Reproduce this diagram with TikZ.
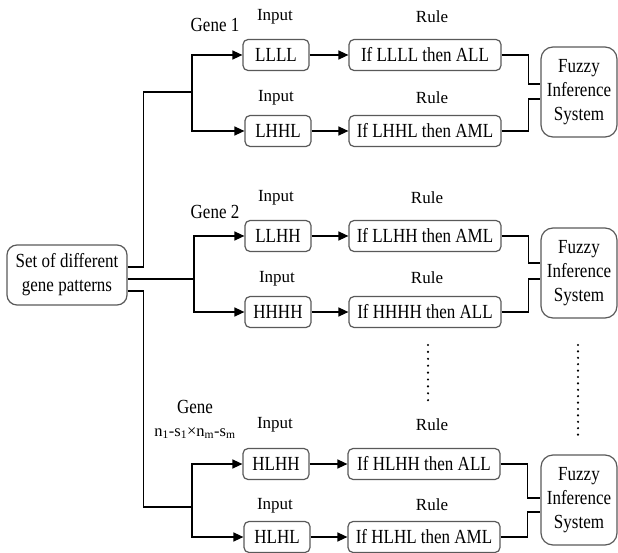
\documentclass[tikz,border=0pt]{standalone}
\usepackage{fontspec}
\setmainfont{Liberation Serif}
\newfontfamily\tallfont[FakeStretch=0.85]{Liberation Serif}
\usetikzlibrary{arrows.meta}
\newlength{\du}
\setlength{\du}{1\unitlength}

\begin{document}
\begin{tikzpicture}[x=1\du,y=-1\du]
\definecolor{dialinecolor}{rgb}{0.350000, 0.350000, 0.350000}
\tikzset{
  boxed/.style={draw=dialinecolor, line width=1.2\du, rounded corners=5\du, inner sep=0pt,
    align=center, font=\tallfont\fontsize{20}{24}\selectfont},
  inbox/.style={boxed, minimum width=66\du, minimum height=31\du},
  rulebox/.style={boxed, minimum width=152\du, minimum height=31\du},
  fisbox/.style={boxed, rounded corners=12\du, minimum width=76\du, minimum height=90\du},
  lbl/.style={inner sep=0pt, font=\fontsize{17}{20}\selectfont},
  wire/.style={black, line width=1.4\du},
  arr/.style={wire, -{Triangle[length=10pt,width=9pt]}}
}
\useasboundingbox (0,0) rectangle (618,553);
% source box
\node[boxed, rounded corners=10\du, minimum width=120\du, minimum height=60\du] (gp) at (67,275){Set of different\\gene patterns};
% inputs
\node[inbox] (in1) at (276,55){LLLL};
\node[inbox] (in2) at (278,131){LHHL};
\node[inbox] (in3) at (278,236){LLHH};
\node[inbox] (in4) at (278,312){HHHH};
\node[inbox] (in5) at (276,464){HLHH};
\node[inbox] (in6) at (277,537){HLHL};
% rules
\node[rulebox] (ru1) at (425,55){If LLLL then ALL};
\node[rulebox] (ru2) at (425,131){If LHHL then AML};
\node[rulebox] (ru3) at (425,236){If LLHH then AML};
\node[rulebox] (ru4) at (425,312){If HHHH then ALL};
\node[rulebox] (ru5) at (424,464){If HLHH then ALL};
\node[rulebox] (ru6) at (424,537){If HLHL then AML};
% inference systems
\node[fisbox] (fis1) at (579,92){Fuzzy\\Inference\\System};
\node[fisbox] (fis2) at (579,273){Fuzzy\\Inference\\System};
\node[fisbox] (fis3) at (579,500){Fuzzy\\Inference\\System};
% labels
\node[lbl, font=\tallfont\fontsize{20}{22}\selectfont] (lg1) at (215,25){Gene 1};
\node[lbl, font=\tallfont\fontsize{20}{22}\selectfont] (lg2) at (215,212){Gene 2};
\node[lbl, font=\tallfont\fontsize{20}{22}\selectfont] (lg3) at (195,407){Gene};
\node[lbl, font=\fontsize{16.5}{18}\selectfont] (lg3b) at (195,433){n\textsubscript{1}-s\textsubscript{1}×n\textsubscript{m}-s\textsubscript{m}};
\node[lbl] (li1) at (275,17){Input};
\node[lbl] (li2) at (276,98){Input};
\node[lbl] (li3) at (276,198){Input};
\node[lbl] (li4) at (277,279){Input};
\node[lbl] (li5) at (275,425){Input};
\node[lbl] (li6) at (275,506){Input};
\node[lbl] (lr1) at (432,17){Rule};
\node[lbl] (lr2) at (432,98){Rule};
\node[lbl] (lr3) at (427,198){Rule};
\node[lbl] (lr4) at (427,278){Rule};
\node[lbl] (lr5) at (432,425){Rule};
\node[lbl] (lr6) at (432,505){Rule};
% branch points
\coordinate (s1) at (192,92);
\coordinate (s2) at (194,279);
\coordinate (s3) at (192,507);
% source to branches
\draw[wire] ([yshift=8\du]gp.east) -- ++(16,0) |- (s1);
\draw[wire] ([yshift=-4\du]gp.east) -- (s2);
\draw[wire] ([yshift=-16\du]gp.east) -- ++(16,0) |- (s3);
\draw[arr] (s1) |- (in1.west);
\draw[arr] (s1) |- (in2.west);
\draw[arr] (s2) |- (in3.west);
\draw[arr] (s2) |- (in4.west);
\draw[arr] (s3) |- (in5.west);
\draw[arr] (s3) |- (in6.west);
% inputs to rules
\foreach \i in {1,...,6}{
  \draw[arr] (in\i.east) -- (ru\i.west);
}
% rules to inference systems
\draw[wire] (ru1.east) -- ++(27,0) |- ([yshift=8\du]fis1.west);
\draw[wire] (ru2.east) -- ++(27,0) |- ([yshift=-7\du]fis1.west);
\draw[wire] (ru3.east) -- ++(27,0) |- ([yshift=10\du]fis2.west);
\draw[wire] (ru4.east) -- ++(27,0) |- ([yshift=-6\du]fis2.west);
\draw[wire] (ru5.east) -- ++(27,0) |- ([yshift=2\du]fis3.west);
\draw[wire] (ru6.east) -- ++(27,0) |- ([yshift=-12\du]fis3.west);
% continuation dots
\draw[line width=2.4\du, line cap=round, dash pattern=on 0\du off 6.9\du] (428,345) -- (428,401);
\draw[line width=2.4\du, line cap=round, dash pattern=on 0\du off 6.4\du] (578,345) -- (578,435);
\end{tikzpicture}
\end{document}
